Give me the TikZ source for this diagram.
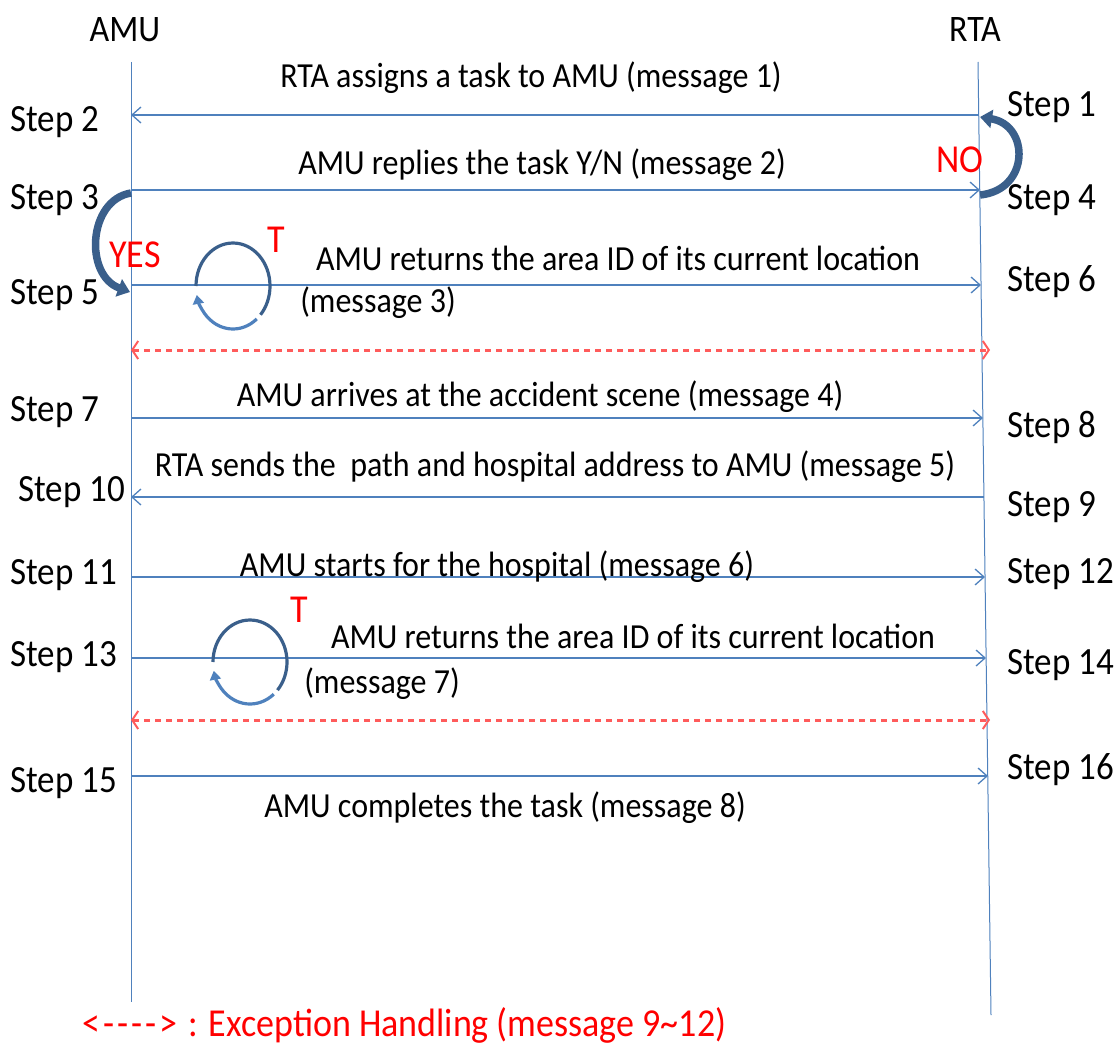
\documentclass[tikz,border=0pt]{standalone}
\usepackage{fontspec}
\setmainfont{Carlito}
\usetikzlibrary{arrows.meta}
\definecolor{lblue}{HTML}{4F81BD}
\definecolor{dblue}{HTML}{3A5F8B}
\definecolor{dred}{HTML}{FF5B5B}
\newcommand\stx[1]{\scalebox{1}[1.1]{#1}}
\begin{document}
\begin{tikzpicture}[x=1pt,y=-1pt,
  msgtxt/.style={inner sep=0pt,font=\fontsize{32}{34}\selectfont},
  hdrtxt/.style={inner sep=0pt,font=\fontsize{34}{36}\selectfont},
  steptxt/.style={inner sep=0pt,anchor=west,font=\fontsize{35}{37}\selectfont},
  redtxt/.style={inner sep=0pt,text=red,font=\fontsize{36}{38}\selectfont},
  life/.style={draw=lblue,line width=1pt},
  msg/.style={draw=lblue,line width=1.3pt,-{Straight Barb[length=9pt,width=16pt,line width=1.3pt]}},
  excarrow/.style={draw=dred,line width=3pt,dash pattern=on 6pt off 5pt,
     {Straight Barb[length=6pt,width=18pt,line width=2pt]}-{Straight Barb[length=6pt,width=18pt,line width=2pt]}},
  bendarrow/.style={draw=dblue,line width=7.5pt,-{Triangle[length=12pt,width=18pt]}},
  loopa/.style={draw=dblue,line width=3.2pt},
  loopb/.style={draw=lblue,line width=3.2pt,-{Triangle[length=9pt,width=11pt]}}
]
\useasboundingbox (0,0) rectangle (1119,1049);
% lifelines
\coordinate (amuTop) at (131,62);
\coordinate (amuBot) at (131,1002);
\coordinate (rtaTop) at (978,62);
\coordinate (rtaBot) at (991,1015);
\draw[life] (amuTop) -- (amuBot);
\draw[life] (rtaTop) -- (rtaBot);
\node[hdrtxt] (hamu) at (125,30) {\stx{AMU}};
\node[hdrtxt] (hrta) at (975,30) {\stx{RTA}};

% message end points
\coordinate (a1) at (131,115); \coordinate (r1) at (979,115);
\coordinate (a2) at (131,190); \coordinate (r2) at (980,190);
\coordinate (a3) at (131,285); \coordinate (r3) at (981,285);
\coordinate (ae1) at (131,350); \coordinate (re1) at (990,350);
\coordinate (a4) at (131,418); \coordinate (r4) at (983,418);
\coordinate (a5) at (131,497); \coordinate (r5) at (984,497);
\coordinate (a6) at (131,577); \coordinate (r6) at (985,577);
\coordinate (a7) at (131,658); \coordinate (r7) at (986,658);
\coordinate (ae2) at (131,720); \coordinate (re2) at (990,720);
\coordinate (a8) at (131,776); \coordinate (r8) at (988,776);

\draw[msg] (r1) -- (a1);
\draw[msg] (a2) -- (r2);
\draw[msg] (a3) -- (r3);
\draw[excarrow] (ae1) -- (re1);
\draw[msg] (a4) -- (r4);
\draw[msg] (r5) -- (a5);
\draw[msg] (a6) -- (r6);
\draw[msg] (a7) -- (r7);
\draw[excarrow] (ae2) -- (re2);
\draw[msg] (a8) -- (r8);

% message labels
\node[msgtxt] (l1) at (531,78) {\stx{RTA assigns a task to AMU (message 1)}};
\node[msgtxt] (l2) at (542,165) {\stx{AMU replies the task Y/N (message 2)}};
\node[msgtxt] (l3) at (618,258) {\stx{AMU returns the area ID of its current location}};
\node[msgtxt] (l3b) at (378,303) {\stx{(message 3)}};
\node[msgtxt] (l4) at (540,397) {\stx{AMU arrives at the accident scene (message 4)}};
\node[msgtxt] (l5) at (555,467) {\stx{RTA sends the\ \ path and hospital address to AMU (message 5)}};
\node[msgtxt] (l6) at (497,567) {\stx{AMU starts for the hospital (message 6)}};
\node[msgtxt] (l7) at (633,636) {\stx{AMU returns the area ID of its current location}};
\node[msgtxt] (l7b) at (382,684) {\stx{(message 7)}};
\node[msgtxt] (l8) at (505,808) {\stx{AMU completes the task (message 8)}};

% step labels
\node[steptxt] (s2) at (10,122) {\stx{Step 2}};
\node[steptxt] (s3) at (10,200) {\stx{Step 3}};
\node[steptxt] (s5) at (10,295) {\stx{Step 5}};
\node[steptxt] (s7) at (10,412) {\stx{Step 7}};
\node[steptxt] (s10) at (18,492) {\stx{Step 10}};
\node[steptxt] (s11) at (10,575) {\stx{Step 11}};
\node[steptxt] (s13) at (10,657) {\stx{Step 13}};
\node[steptxt] (s15) at (10,783) {\stx{Step 15}};
\node[steptxt] (s1) at (1007,107) {\stx{Step 1}};
\node[steptxt] (s4) at (1007,200) {\stx{Step 4}};
\node[steptxt] (s6) at (1007,282) {\stx{Step 6}};
\node[steptxt] (s8) at (1007,427) {\stx{Step 8}};
\node[steptxt] (s9) at (1007,507) {\stx{Step 9}};
\node[steptxt] (s12) at (1007,574) {\stx{Step 12}};
\node[steptxt] (s14) at (1007,665) {\stx{Step 14}};
\node[steptxt] (s16) at (1007,770) {\stx{Step 16}};

% YES / NO bends
\coordinate (y0) at (131,193);
\coordinate (y1) at (130,292);
\draw[bendarrow] (y0) .. controls (88,200) and (84,275) .. (y1);
\coordinate (n0) at (980,195);
\coordinate (n1) at (980,117);
\draw[bendarrow] (n0) .. controls (1030,190) and (1030,125) .. (n1);
\node[redtxt] (yes) at (135,255) {\stx{YES}};
\node[redtxt] (no) at (960,160) {\stx{NO}};

% timer loops
\node[redtxt] (t1) at (276,240) {\stx{T}};
\draw[loopa] (233,286) ++(180:37 and 43) arc[start angle=180,end angle=402,x radius=37,y radius=43];
\draw[loopb] (233,286) ++(50:37 and 43) arc[start angle=50,end angle=168,x radius=37,y radius=43];
\node[redtxt] (t2) at (299,610) {\stx{T}};
\draw[loopa] (250,662) ++(180:37 and 42) arc[start angle=180,end angle=402,x radius=37,y radius=42];
\draw[loopb] (250,662) ++(50:37 and 42) arc[start angle=50,end angle=168,x radius=37,y radius=42];

% legend
\node[redtxt,anchor=west] (leg) at (82,1025) {\stx{<\kern3pt-\kern3pt-\kern3pt-\kern3pt-\kern3pt>\kern3pt\ : Exception Handling (message 9\textasciitilde12)}};
\end{tikzpicture}
\end{document}
